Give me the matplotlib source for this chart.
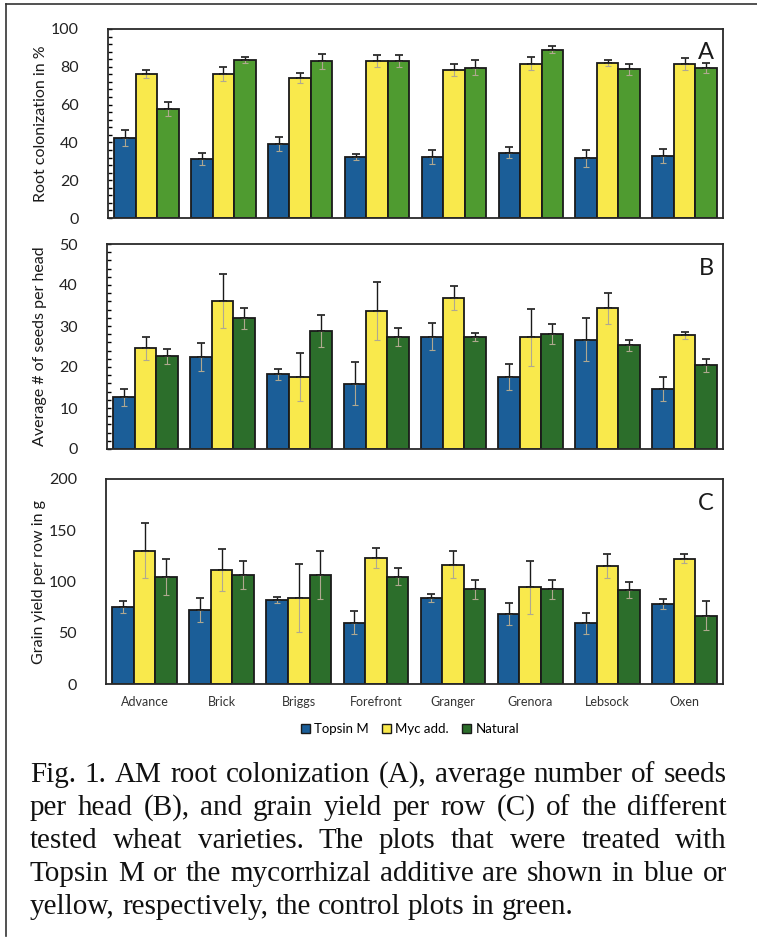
import matplotlib
matplotlib.use("Agg")
import matplotlib.pyplot as plt
from matplotlib.patches import Patch
from matplotlib.lines import Line2D
from matplotlib.ticker import MultipleLocator
import numpy as np

# wheat varieties
varieties = ["Advance", "Brick", "Briggs", "Forefront", "Granger", "Grenora", "Lebsock", "Oxen"]
treatments = ["Topsin M", "Myc add.", "Natural"]

# A: root colonization in %
colon_topsin = [42.4, 31.1, 39.4, 32.3, 32.3, 34.6, 31.6, 32.8]
colon_topsin_err = [4.4, 3.1, 3.7, 1.4, 3.5, 3.0, 4.5, 3.8]
colon_myc = [76.1, 76.1, 74.0, 82.9, 78.5, 81.7, 82.0, 81.5]
colon_myc_err = [2.1, 3.7, 2.6, 3.1, 3.2, 3.6, 1.8, 3.1]
colon_nat = [57.9, 83.4, 82.9, 82.9, 79.4, 89.0, 78.7, 79.4]
colon_nat_err = [3.7, 1.6, 3.8, 3.1, 4.0, 1.9, 2.8, 2.6]

# B: average # of seeds per head
seeds_topsin = [12.6, 22.5, 18.2, 15.9, 27.4, 17.6, 26.7, 14.7]
seeds_topsin_err = [2.0, 3.4, 1.3, 5.2, 3.3, 3.1, 5.2, 2.9]
seeds_myc = [24.6, 36.1, 17.6, 33.6, 36.9, 27.2, 34.3, 27.7]
seeds_myc_err = [2.8, 6.7, 5.8, 7.1, 2.9, 6.9, 3.7, 0.8]
seeds_nat = [22.6, 31.9, 28.7, 27.3, 27.3, 28.1, 25.3, 20.4]
seeds_nat_err = [1.8, 2.6, 3.9, 2.1, 1.0, 2.5, 1.4, 1.6]

# C: grain yield per row in g
yield_topsin = [75.4, 72.2, 82.0, 59.8, 83.6, 68.3, 59.2, 77.7]
yield_topsin_err = [5.9, 11.7, 2.6, 11.1, 3.9, 11.0, 10.1, 4.9]
yield_myc = [130.1, 111.5, 83.9, 122.9, 116.4, 94.3, 115.1, 122.3]
yield_myc_err = [27.0, 20.5, 32.8, 10.1, 13.0, 26.0, 11.4, 4.2]
yield_nat = [104.7, 106.3, 106.3, 104.7, 92.4, 92.4, 91.7, 66.7]
yield_nat_err = [17.6, 14.0, 23.1, 8.1, 9.1, 9.1, 7.5, 14.0]

caption_lines = [
    "Fig. 1. AM root colonization (A), average number of seeds",
    "per head (B), and grain yield per row (C) of the different",
    "tested wheat varieties. The plots that were treated with",
    "Topsin M or the mycorrhizal additive are shown in blue or",
    "yellow, respectively, the control plots in green.",
]

blue = "#1b5e98"
yellow = "#f9e94c"
green_light = "#4f9b30"
green_dark = "#2c6e2b"

W, H = 757, 943
fig = plt.figure(figsize=(W / 100, H / 100), dpi=100)
sans = ["Lato", "DejaVu Sans"]


def rect(l, t, r, b):
    return [l / W, 1 - b / H, (r - l) / W, (b - t) / H]


def panel(ax, series, errs, colors, ymax, major, minor, ylabel, letter, show_x):
    x = np.arange(len(varieties))
    bw = 0.28
    for i, (vals, err, c) in enumerate(zip(series, errs, colors)):
        pos = x + (i - 1) * bw
        ax.bar(pos, vals, bw, color=c, edgecolor="#1a1a1a", linewidth=1.3, zorder=2)
        vals = np.array(vals)
        err = np.array(err)
        # faint lower half of error bar inside the bar
        ax.errorbar(pos, vals, yerr=[err, np.zeros_like(err)], fmt="none",
                    ecolor="#b0a890", elinewidth=0.8, capsize=2.5, capthick=0.8, zorder=3)
        ax.errorbar(pos, vals, yerr=[np.zeros_like(err), err], fmt="none",
                    ecolor="#1a1a1a", elinewidth=1.0, capsize=3, capthick=1.2, zorder=4)
    ax.set_xlim(-0.5, len(varieties) - 0.5)
    ax.set_ylim(0, ymax)
    ax.yaxis.set_major_locator(MultipleLocator(major))
    if minor:
        ax.yaxis.set_minor_locator(MultipleLocator(minor))
    ax.tick_params(axis="y", direction="in", length=3, width=1, labelsize=11.5,
                   labelcolor="#222222", pad=21)
    ax.tick_params(axis="y", which="minor", direction="in", length=3, width=1)
    for lab in ax.get_yticklabels():
        lab.set_family(sans)
    ax.set_ylabel(ylabel, fontsize=11.5, family=sans, color="#1a1a1a")
    for s in ax.spines.values():
        s.set_linewidth(1.3)
        s.set_color("#2a2a2a")
    ax.text(0.985, 0.93, letter, transform=ax.transAxes, ha="right", va="top",
            fontsize=17, family=sans, color="#1a1a1a")
    ax.set_xticks(x)
    if show_x:
        ax.set_xticklabels(varieties, fontsize=9, family=sans, color="#333333")
        ax.tick_params(axis="x", length=0, pad=9)
    else:
        ax.set_xticklabels([])
        ax.tick_params(axis="x", length=0)


axA = fig.add_axes(rect(108, 29, 723, 218))
axB = fig.add_axes(rect(107, 244, 723, 449))
axC = fig.add_axes(rect(106, 479, 723, 684))

panel(axA, [colon_topsin, colon_myc, colon_nat],
      [colon_topsin_err, colon_myc_err, colon_nat_err],
      [blue, yellow, green_light], 100, 20, 4, "Root colonization in %", "A", False)
panel(axB, [seeds_topsin, seeds_myc, seeds_nat],
      [seeds_topsin_err, seeds_myc_err, seeds_nat_err],
      [blue, yellow, green_dark], 50, 10, 2, "Average # of seeds per head", "B", False)
panel(axC, [yield_topsin, yield_myc, yield_nat],
      [yield_topsin_err, yield_myc_err, yield_nat_err],
      [blue, yellow, green_dark], 200, 50, None, "Grain yield per row in g", "C", True)
axC.tick_params(axis="y", length=0)

for ax in (axA, axB, axC):
    ax.yaxis.set_label_coords(-0.097, 0.5)

handles = [Patch(facecolor=c, edgecolor="#1a1a1a", linewidth=1.0)
           for c in (blue, yellow, green_dark)]
fig.legend(handles, treatments, loc="center", bbox_to_anchor=(410 / W, 1 - 729 / H),
           ncol=3, frameon=False, prop={"family": sans, "size": 9.5},
           handlelength=0.7, handleheight=0.7, handletextpad=0.3, columnspacing=1.0)

# frame lines of the figure box
fig.add_artist(Line2D([6 / W, 6 / W], [1 - 4 / H, 1 - 936 / H], color="#333333", lw=1.2))
fig.add_artist(Line2D([6 / W, 1], [1 - 4 / H, 1 - 4 / H], color="#333333", lw=1.2))

# justified caption
renderer = fig.canvas.get_renderer()
x0, x1 = 30, 727
fs = 21
for k, line in enumerate(caption_lines):
    y = 1 - (775 + k * 33) / H
    words = line.split()
    texts = [fig.text(0, y, w, fontsize=fs, family="Liberation Serif", color="#111111",
                      va="center", ha="left") for w in words]
    widths = [t.get_window_extent(renderer).width for t in texts]
    if k == len(caption_lines) - 1:
        gap = fs * 0.25 * 100 / 72
    else:
        gap = (x1 - x0 - sum(widths)) / (len(words) - 1)
    xp = x0
    for t, w in zip(texts, widths):
        t.set_x(xp / W)
        xp += w + gap

fig.savefig("out.png", dpi=100)
